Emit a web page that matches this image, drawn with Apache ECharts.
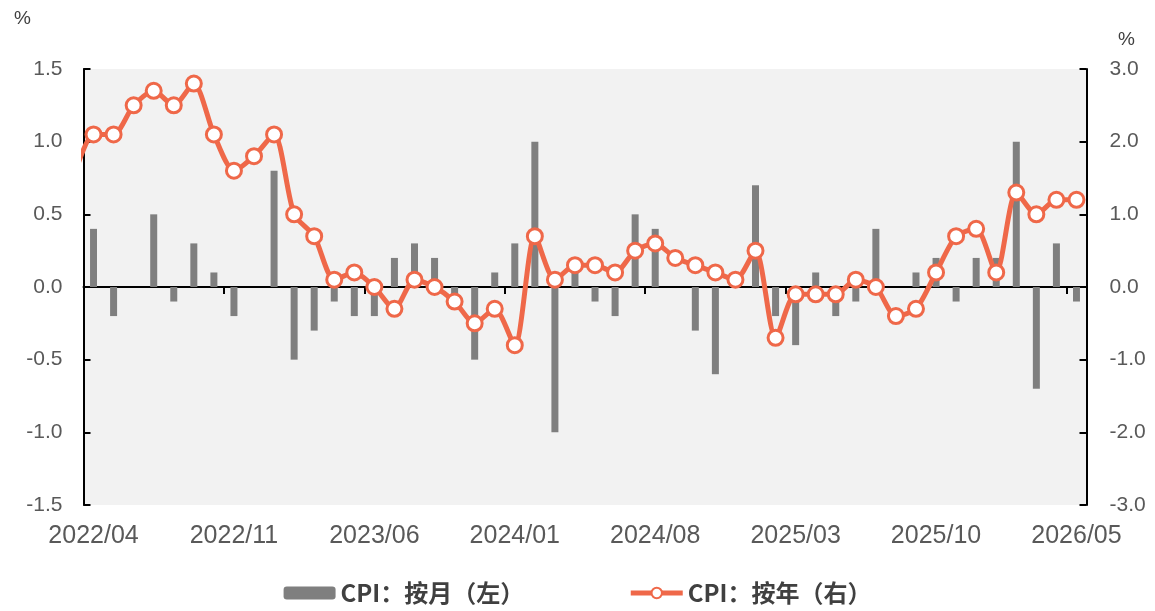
<!DOCTYPE html>
<html>
<head>
<meta charset="utf-8">
<script src="https://cdn.jsdelivr.net/npm/echarts@6/dist/echarts.min.js"></script>
<style>
  html, body { margin: 0; padding: 0; background: #fff; }
  #main { width: 1155px; height: 611px; }
</style>
</head>
<body>
<div id="main"></div>
<script>
// 月份：前 7 个月在可视范围之外（min: 7），2022/03 只用于画出左边被截断的线段
var months = [
  '2021/09', '2021/10', '2021/11', '2021/12', '2022/01', '2022/02', '2022/03',
  '2022/04', '2022/05', '2022/06', '2022/07', '2022/08', '2022/09', '2022/10', '2022/11', '2022/12',
  '2023/01', '2023/02', '2023/03', '2023/04', '2023/05', '2023/06', '2023/07', '2023/08', '2023/09', '2023/10',
  '2023/11', '2023/12', '2024/01', '2024/02', '2024/03', '2024/04', '2024/05', '2024/06', '2024/07', '2024/08',
  '2024/09', '2024/10', '2024/11', '2024/12', '2025/01', '2025/02', '2025/03', '2025/04', '2025/05', '2025/06',
  '2025/07', '2025/08', '2025/09', '2025/10', '2025/11', '2025/12', '2026/01', '2026/02', '2026/03', '2026/04',
  '2026/05'
];
// CPI：按月（左轴）
var cpiMom = [
  null, null, null, null, null, null, null,
  0.4, -0.2, 0, 0.5, -0.1, 0.3, 0.1, -0.2, 0,
  0.8, -0.5, -0.3, -0.1, -0.2, -0.2, 0.2, 0.3, 0.2, -0.1,
  -0.5, 0.1, 0.3, 1.0, -1.0, 0.1, -0.1, -0.2, 0.5, 0.4,
  0, -0.3, -0.6, 0, 0.7, -0.2, -0.4, 0.1, -0.2, -0.1,
  0.4, 0, 0.1, 0.2, -0.1, 0.2, 0.2, 1.0, -0.7, 0.3,
  -0.1
];
// CPI：按年（右轴）
var cpiYoy = [
  null, null, null, null, null, null, 1.5,
  2.1, 2.1, 2.5, 2.7, 2.5, 2.8, 2.1, 1.6, 1.8,
  2.1, 1.0, 0.7, 0.1, 0.2, 0.0, -0.3, 0.1, 0.0, -0.2,
  -0.5, -0.3, -0.8, 0.7, 0.1, 0.3, 0.3, 0.2, 0.5, 0.6,
  0.4, 0.3, 0.2, 0.1, 0.5, -0.7, -0.1, -0.1, -0.1, 0.1,
  0.0, -0.4, -0.3, 0.2, 0.7, 0.8, 0.2, 1.3, 1.0, 1.2,
  1.2
];

var lineColor = '#EF6849';
var barColor = '#7F7F7F';
var labelColor = '#595959';

var chart = echarts.init(document.getElementById('main'), null, { renderer: 'canvas' });

var option = {
  backgroundColor: '#fff',
  animation: false,
  grid: {
    left: 83.5,
    right: 68.5,
    top: 69,
    bottom: 106,
    containLabel: false,
    outerBoundsMode: 'none',
    show: true,
    backgroundColor: '#F2F2F2',
    borderWidth: 0
  },
  legend: {
    bottom: 1,
    left: 'center',
    itemWidth: 52,
    itemHeight: 13,
    itemGap: 104,
    lineStyle: { width: 5 },
    textStyle: {
      fontFamily: 'Noto Sans CJK SC',
      fontSize: 24,
      fontWeight: 'bold',
      color: '#404040'
    },
    data: ['CPI：按月（左）', 'CPI：按年（右）']
  },
  xAxis: [
    {
      // 底部只放标签
      type: 'category',
      data: months,
      min: 7,
      position: 'bottom',
      boundaryGap: true,
      axisLine: { show: false, onZero: false },
      axisTick: { show: false },
      axisLabel: {
        interval: 6,
        margin: 19,
        color: labelColor,
        fontFamily: 'Liberation Sans',
        fontSize: 25
      },
      splitLine: { show: false }
    },
    {
      // 零线和刻度
      type: 'category',
      data: months,
      min: 7,
      position: 'top',
      boundaryGap: true,
      axisLine: { show: true, onZero: true, onZeroAxisIndex: 0, lineStyle: { color: '#000', width: 2 } },
      axisTick: { show: true, inside: true, interval: 6, length: 7, lineStyle: { color: '#000', width: 2 } },
      axisLabel: { show: false, interval: 6 },
      splitLine: { show: false }
    }
  ],
  yAxis: [
    {
      type: 'value',
      position: 'left',
      min: -1.5,
      max: 1.5,
      interval: 0.5,
      name: '%',
      nameLocation: 'end',
      nameGap: 41,
      nameTextStyle: { color: '#404040', fontSize: 19, fontFamily: 'Liberation Sans', padding: [0, 122, 0, 0] },
      axisLine: { show: true, onZero: false, lineStyle: { color: '#000', width: 2 } },
      axisTick: { show: true, inside: true, length: 7, lineStyle: { color: '#000', width: 2 } },
      axisLabel: {
        margin: 21,
        color: labelColor,
        fontFamily: 'Liberation Sans',
        fontSize: 21,
        formatter: function (v) { return v.toFixed(1); }
      },
      splitLine: { show: false }
    },
    {
      type: 'value',
      position: 'right',
      min: -3,
      max: 3,
      interval: 1,
      name: '%',
      nameLocation: 'end',
      nameGap: 20,
      nameTextStyle: { color: '#404040', fontSize: 19, fontFamily: 'Liberation Sans', padding: [0, 0, 0, 80] },
      axisLine: { show: true, onZero: false, lineStyle: { color: '#000', width: 2 } },
      axisTick: { show: true, inside: true, length: 7, lineStyle: { color: '#000', width: 2 } },
      axisLabel: {
        margin: 23,
        color: labelColor,
        fontFamily: 'Liberation Sans',
        fontSize: 21,
        formatter: function (v) { return v.toFixed(1); }
      },
      splitLine: { show: false }
    }
  ],
  series: [
    {
      name: 'CPI：按月（左）',
      type: 'bar',
      xAxisIndex: 0,
      yAxisIndex: 0,
      barWidth: 7,
      itemStyle: { color: barColor },
      data: cpiMom
    },
    {
      name: 'CPI：按年（右）',
      type: 'line',
      xAxisIndex: 0,
      yAxisIndex: 1,
      smooth: 0.25,
      clip: true,
      symbol: 'circle',
      symbolSize: 15,
      showAllSymbol: true,
      lineStyle: { color: lineColor, width: 5 },
      itemStyle: { color: '#fff', borderColor: lineColor, borderWidth: 3 },
      z: 3,
      data: cpiYoy
    }
  ]
};

chart.setOption(option);
</script>
</body>
</html>
